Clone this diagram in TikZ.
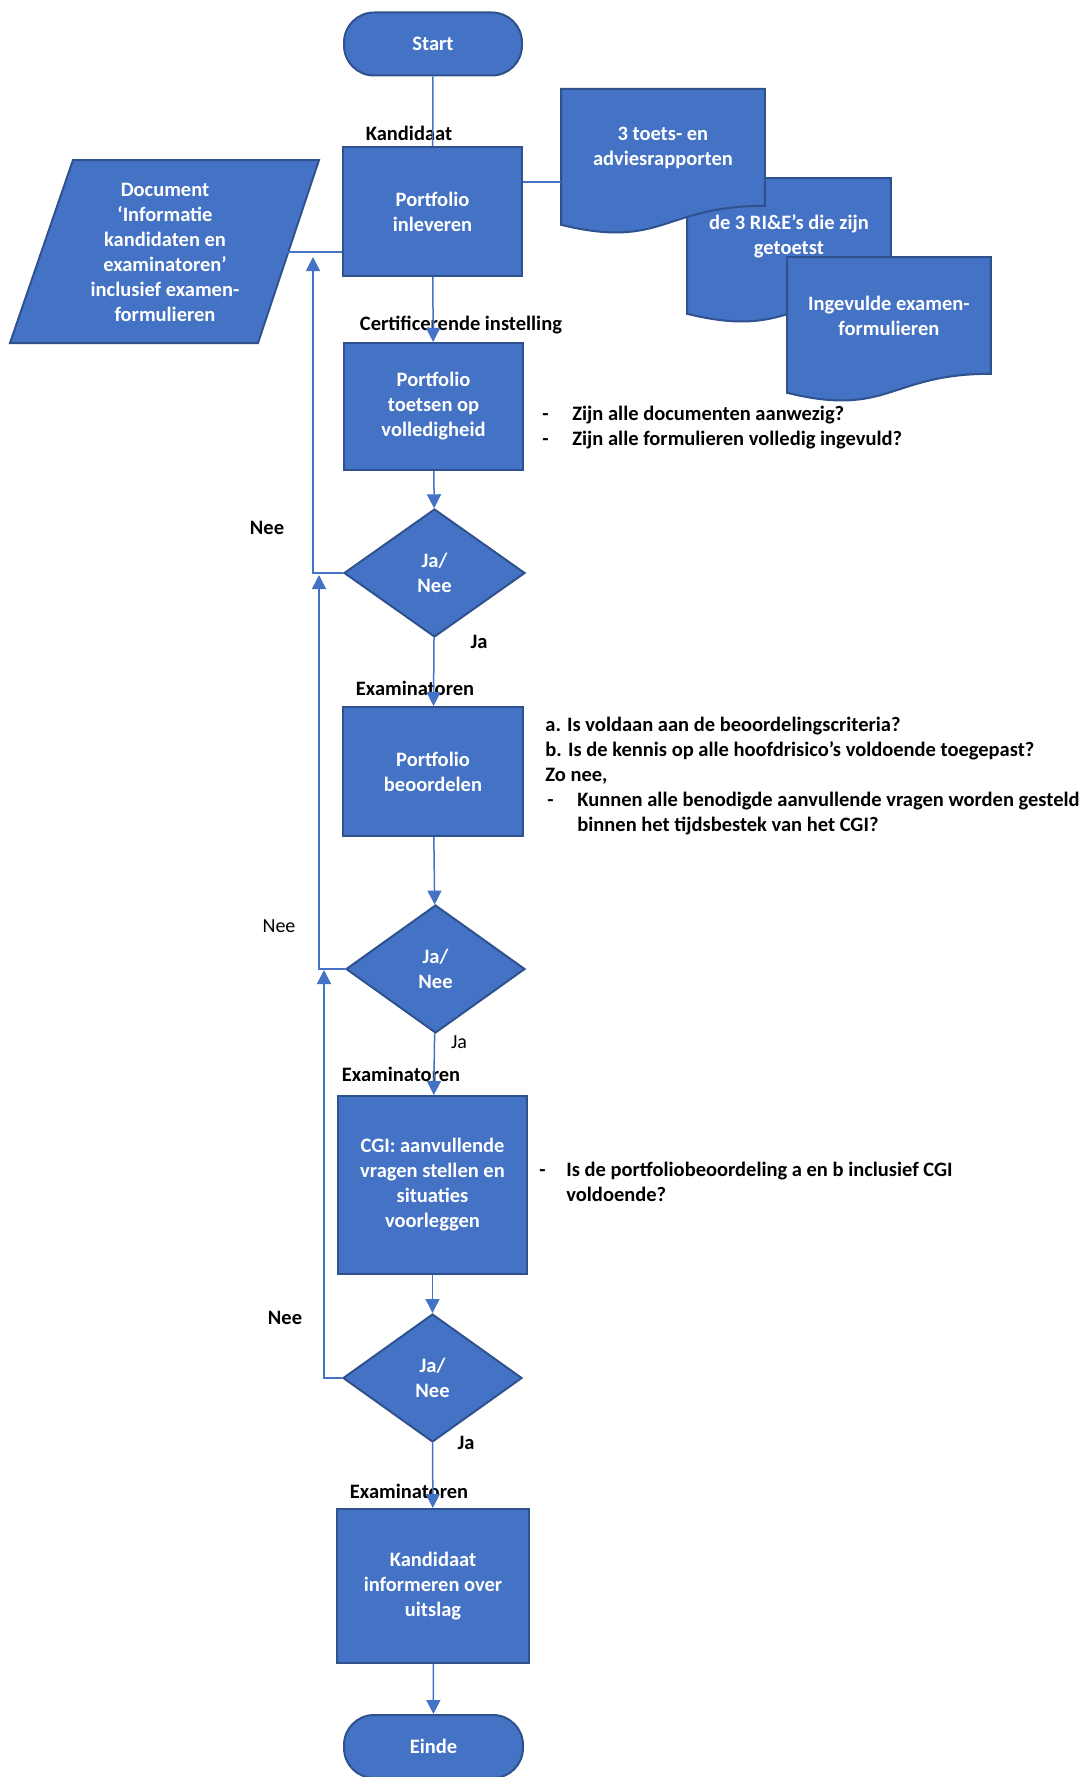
\documentclass[tikz,border=0pt]{standalone}
\usepackage{fontspec}
\setmainfont{Carlito}
\usepackage{tikz}
\usetikzlibrary{shapes.geometric, arrows.meta, calc, backgrounds, positioning}
\definecolor{officeblue}{HTML}{4472C4}
\definecolor{officeedge}{HTML}{2F528F}
\newcommand{\docoutline}[1]{\filldraw[fill=officeblue, draw=officeedge, line width=1pt] (#1.north west) -- (#1.north east) -- (#1.south east) .. controls (#1.south) and ($(#1.south)+(0,44)$) .. ($(#1.south west)+(0,19)$) -- cycle;}

\begin{document}
\begin{tikzpicture}[x=0.5pt, y=-0.5pt, font=\fontsize{10.25pt}{12.5pt}\selectfont\bfseries]
        \tikzstyle{proc}=[rectangle, draw=officeedge, fill=officeblue, line width=1pt, text=white, align=center, inner sep=0pt]
        \tikzstyle{term}=[proc, rounded corners=15pt]
        \tikzstyle{choice}=[diamond, draw=officeedge, fill=officeblue, line width=1pt, text=white, align=center, inner sep=0pt]
        \tikzstyle{doc}=[text=white, align=center, anchor=north west, minimum width=101.5pt, minimum height=58pt, inner sep=0pt]
        \tikzstyle{flow}=[draw=officeblue, line width=0.75pt]
        \tikzstyle{flowarrow}=[flow, -{Triangle[length=7pt, width=7pt]}]
        \tikzstyle{role}=[text=black, inner sep=0pt]
        \tikzstyle{note}=[text=black, align=left, anchor=base west, inner sep=0pt]

        \useasboundingbox (0,0) rectangle (1091,1777);

        % Main column
        \node[term, minimum width=89pt, minimum height=31.5pt] (start) at (433,44) {Start};
        \node[proc, minimum width=89.5pt, minimum height=64.5pt] (inleveren) at (432.5,211.5) {Portfolio\\inleveren};
        \node[proc, minimum width=89.5pt, minimum height=63.5pt] (toetsen) at (433.5,406.5) {Portfolio\\toetsen op\\volledigheid};
        \node[choice, minimum width=90.5pt, minimum height=64pt] (keuze1) at (434.5,573) {Ja/\\Nee};
        \node[proc, minimum width=90pt, minimum height=64.5pt] (beoordelen) at (433,771.5) {Portfolio\\beoordelen};
        \node[choice, minimum width=89.5pt, minimum height=64pt] (keuze2) at (435.5,969) {Ja/\\Nee};
        \node[proc, minimum width=94.5pt, minimum height=89pt] (cgi) at (432.5,1185) {CGI: aanvullende\\vragen stellen en\\situaties\\voorleggen};
        \node[choice, minimum width=89.5pt, minimum height=64pt] (keuze3) at (432.5,1378) {Ja/\\Nee};
        \node[proc, minimum width=96pt, minimum height=77pt] (informeren) at (433,1586) {Kandidaat\\informeren over\\uitslag};
        \node[term, minimum width=89.5pt, minimum height=31.5pt] (einde) at (433.5,1746.5) {Einde};

        % Input document (parallelogram)
        \filldraw[fill=officeblue, draw=officeedge, line width=1pt] (73,160) -- (319,160) -- (258,343) -- (10,343) -- cycle;
        \node[text=white, align=center] (infodoc) at (165,252) {Document\\‘Informatie\\kandidaten en\\examinatoren’\\inclusief examen-\\formulieren};
        \coordinate (inforight) at (287,252);

        % Delivered documents
        \node[doc] (docrie) at (687,178) {de 3 RI\&E’s die zijn\\getoetst};
        \node[doc] (docrap) at (561,89) {3 toets- en\\adviesrapporten};
        \node[doc] (docform) at (787,257) {Ingevulde examen-\\formulieren};
        \begin{pgfonlayer}{background}
            \docoutline{docrie}
            \docoutline{docrap}
            \docoutline{docform}
        \end{pgfonlayer}
        \coordinate (rapin) at (522,182);

        % Roles
        \node[role] (rolkandidaat) at (409,133) {Kandidaat};
        \node[role] (rolinstelling) at (461,325) {Certificerende instelling};
        \node[role] (rolexam1) at (415,688) {Examinatoren};
        \node[role] (rolexam2) at (401,1074) {Examinatoren};
        \node[role] (rolexam3) at (409,1491) {Examinatoren};

        % Ja / Nee labels
        \node[role] (nee1) at (267,528) {Nee};
        \node[role] (ja1) at (479,642) {Ja};
        \node[role, font=\mdseries] (nee2) at (279,926) {Nee};
        \node[role, font=\mdseries] (ja2) at (459,1042) {Ja};
        \node[role] (nee3) at (285,1318) {Nee};
        \node[role] (ja3) at (466,1443) {Ja};

        % Check questions (anchored on the baseline of the last line)
        \node[note] (checks) at (542,445) {\makebox[15pt][l]{-}Zijn alle documenten aanwezig?\\\makebox[15pt][l]{-}Zijn alle formulieren volledig ingevuld?};
        \node[note] (criteria) at (545,831) {a. Is voldaan aan de beoordelingscriteria?\\b. Is de kennis op alle hoofdrisico’s voldoende toegepast?\\Zo nee,\\\makebox[16pt][l]{\hspace{1pt}-}Kunnen alle benodigde aanvullende vragen worden gesteld\\\hspace{16pt}binnen het tijdsbestek van het CGI?};
        \node[note] (eindcheck) at (539,1201) {\makebox[13.5pt][l]{-}Is de portfoliobeoordeling a en b inclusief CGI\\\hspace{13.5pt}voldoende?};

        % Connectors
        \draw[flow] (start) -- (inleveren);
        \draw[flow] (inleveren.east |- rapin) -- (rapin -| docrap.west);
        \draw[flow] (inforight) -- (inforight -| inleveren.west);
        \draw[flowarrow] (inleveren) -- (toetsen);
        \draw[flowarrow] (toetsen) -- (keuze1);
        \draw[flowarrow] (keuze1) -- (beoordelen);
        \draw[flowarrow] (beoordelen) -- (keuze2);
        \draw[flowarrow] (keuze2) -- (cgi);
        \draw[flowarrow] (cgi) -- (keuze3);
        \draw[flowarrow] (keuze3) -- (informeren);
        \draw[flowarrow] (informeren) -- (einde);

        % Loops back on Nee
        \coordinate (terug1) at (313,257);
        \coordinate (terug2) at (319,575);
        \coordinate (terug3) at (324,970);
        \draw[flowarrow] (keuze1.west) -| (terug1);
        \draw[flowarrow] (keuze2.west) -| (terug2);
        \draw[flowarrow] (keuze3.west) -| (terug3);
\end{tikzpicture}
\end{document}
